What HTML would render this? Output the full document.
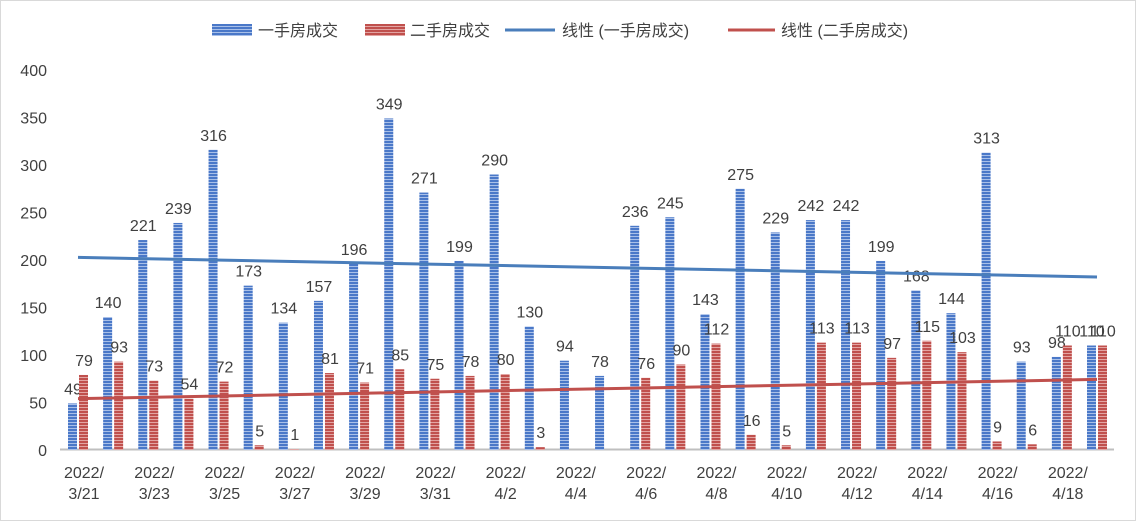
<!DOCTYPE html>
<html><head><meta charset="utf-8"><style>
body{margin:0;background:#fff;}
svg{display:block;font-family:"Liberation Sans","Noto Sans CJK SC",sans-serif;}
</style></head><body>
<svg id="chart" width="1136" height="521" viewBox="0 0 1136 521">
<defs>
<pattern id="pb" width="4" height="3" patternUnits="userSpaceOnUse"><rect width="4" height="3" fill="#4a78c8"/><rect y="2" width="4" height="1" fill="#a9c0e8"/></pattern>
<pattern id="pr" width="4" height="3" patternUnits="userSpaceOnUse"><rect width="4" height="3" fill="#c0504d"/><rect y="2" width="4" height="1" fill="#e3a5a3"/></pattern>
</defs>
<rect x="0.5" y="0.5" width="1135" height="520" fill="#fff" stroke="#d9d9d9"/>
<g id="legend">
<g><rect x="212" y="24" width="40" height="12" fill="url(#pb)"/><text x="258" y="36" font-size="16" fill="#404040">一手房成交</text></g>
<g><rect x="365" y="24" width="40" height="12" fill="url(#pr)"/><text x="410" y="36" font-size="16" fill="#404040">二手房成交</text></g>
<g><line x1="505" y1="30" x2="555" y2="30" stroke="#4a7ebb" stroke-width="3"/><text x="562" y="36" font-size="16" fill="#404040">线性 (一手房成交)</text></g>
<g><line x1="728" y1="30" x2="775" y2="30" stroke="#c0504d" stroke-width="3"/><text x="781" y="36" font-size="16" fill="#404040">线性 (二手房成交)</text></g>
</g>
<g id="plot"></g>
</svg>
<script>
const categories=["3/21","3/22","3/23","3/24","3/25","3/26","3/27","3/28","3/29","3/30","3/31","4/1","4/2","4/3","4/4","4/5","4/6","4/7","4/8","4/9","4/10","4/11","4/12","4/13","4/14","4/15","4/16","4/17","4/18","4/19"];
const newHomes=[49,140,221,239,316,173,134,157,196,349,271,199,290,130,94,78,236,245,143,275,229,242,242,199,168,144,313,93,98,110];
const secondHomes=[79,93,73,54,72,5,1,81,71,85,75,78,80,3,null,null,76,90,112,16,5,113,113,97,115,103,9,6,110,110];
const yTicks=[0,50,100,150,200,250,300,350,400];
const NS="http://www.w3.org/2000/svg";
const g=document.getElementById('plot');
const y0=450,pxPer=0.95,x0=78,step=(1097-78)/29;
const Y=v=>y0-v*pxPer, X=i=>x0+i*step;
function el(t,a,txt){const e=document.createElementNS(NS,t);for(const k in a)e.setAttribute(k,a[k]);if(txt!=null)e.textContent=txt;g.appendChild(e);return e;}
yTicks.forEach(v=>{const t=el('text',{x:47,y:Y(v)+6,'font-size':16,fill:'#404040','text-anchor':'end'},v);

});
const ax=el('line',{x1:60,y1:449.5,x2:1114,y2:449.5,stroke:'#bfbfbf','stroke-width':2});


categories.forEach((c,i)=>{
 const cx=X(i);
 const b=el('rect',{x:cx-10,y:Y(newHomes[i]),width:9,height:newHomes[i]*pxPer,fill:'url(#pb)'});
 
 
 const bl=el('text',{x:cx-5,y:Y(newHomes[i])-9,'font-size':16,fill:'#404040','text-anchor':'middle'},newHomes[i]);
 
 
 if(secondHomes[i]!=null){
  const r=el('rect',{x:cx+1,y:Y(secondHomes[i]),width:9,height:secondHomes[i]*pxPer,fill:'url(#pr)'});
  
  
  const rl=el('text',{x:cx+6,y:Y(secondHomes[i])-9,'font-size':16,fill:'#404040','text-anchor':'middle'},secondHomes[i]);
  
  
 }
 if(i%2===0){
  const t1=el('text',{x:cx+6,y:478,'font-size':16,fill:'#404040','text-anchor':'middle'},'2022/');
  
  
  const t2=el('text',{x:cx+6,y:499,'font-size':16,fill:'#404040','text-anchor':'middle'},c);
  
  
 }
});
function trend(arr,color,name){
 const pts=arr.map((v,i)=>[i+1,v==null?0:v]);const n=pts.length;
 let sx=0,sy=0,sxx=0,sxy=0;pts.forEach(([x,y])=>{sx+=x;sy+=y;sxx+=x*x;sxy+=x*y;});
 const m=(n*sxy-sx*sy)/(n*sxx-sx*sx),b=(sy-m*sx)/n;
 const l=el('line',{x1:X(0),y1:Y(m*1+b),x2:X(n-1),y2:Y(m*n+b),stroke:color,'stroke-width':3});
 
 
}
trend(newHomes,'#4a7ebb','trendline-new');
trend(secondHomes,'#c0504d','trendline-second');
</script>
</body></html>
